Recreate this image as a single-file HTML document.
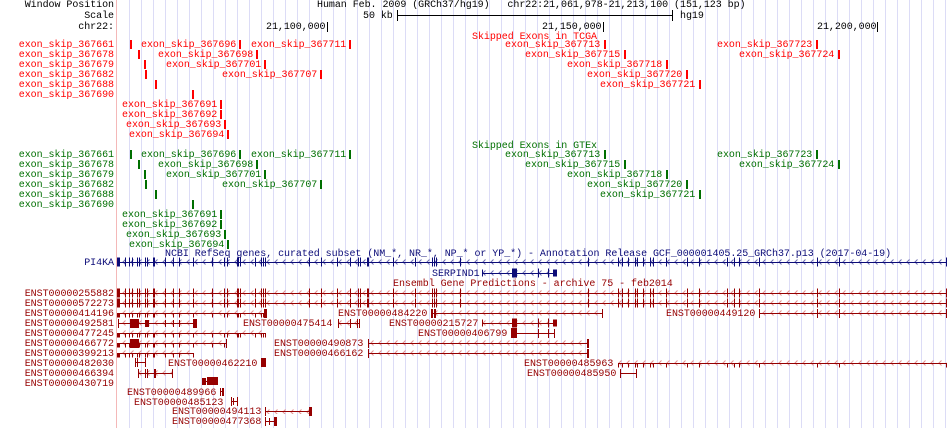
<!DOCTYPE html>
<html><head><meta charset="utf-8"><style>
body{margin:0;background:#fff;width:950px;height:428px;overflow:hidden;position:relative}
.t{position:absolute;font:10px/12px "Liberation Mono","DejaVu Sans Mono",monospace;white-space:pre;letter-spacing:-0.05px;margin-top:2px}
.r{color:#ff0000}.g{color:#006f00}.n{color:#0c0c78}.e{color:#960000}.k{color:#000}
svg{position:absolute;left:0;top:0}
</style></head><body>
<svg width="950" height="428" xmlns="http://www.w3.org/2000/svg">
<defs>
<pattern id="cE3" patternUnits="userSpaceOnUse" width="8" height="10" y="0"><path d="M5.5 0.5 L3 3 L5.5 5.5" fill="none" stroke="#e09090" stroke-width="1"/></pattern>
<pattern id="cE2" patternUnits="userSpaceOnUse" width="8" height="10" y="-1"><path d="M5.5 0.5 L3 3 L5.5 5.5" fill="none" stroke="#e09090" stroke-width="1"/></pattern>
<pattern id="cN2" patternUnits="userSpaceOnUse" width="8" height="10" y="-1"><path d="M5.5 0.5 L3 3 L5.5 5.5" fill="none" stroke="#6a6ab0" stroke-width="1"/></pattern>
<pattern id="cN3" patternUnits="userSpaceOnUse" width="8" height="10" y="0"><path d="M5.5 0.5 L3 3 L5.5 5.5" fill="none" stroke="#6a6ab0" stroke-width="1"/></pattern>
<g id="ex">
<rect x="117" y="-4.5" width="3" height="9"/>
<rect x="125" y="-4.5" width="1" height="9"/><rect x="129" y="-4.5" width="1" height="9"/><rect x="132" y="-4.5" width="1" height="9"/><rect x="137" y="-4.5" width="1" height="9"/><rect x="139" y="-4.5" width="1" height="9"/><rect x="145" y="-4.5" width="1" height="9"/><rect x="147" y="-4.5" width="1" height="9"/><rect x="153" y="-4.5" width="2" height="9"/><rect x="165" y="-4.5" width="1" height="9"/><rect x="173" y="-4.5" width="1" height="9"/><rect x="179" y="-4.5" width="1" height="9"/><rect x="193" y="-4.5" width="1" height="9"/><rect x="212" y="-4.5" width="1" height="9"/><rect x="224" y="-4.5" width="1" height="9"/><rect x="227" y="-4.5" width="1" height="9"/><rect x="237" y="-4.5" width="2" height="9"/><rect x="240" y="-4.5" width="1" height="9"/><rect x="255" y="-4.5" width="1" height="9"/><rect x="261" y="-4.5" width="1" height="9"/><rect x="263" y="-4.5" width="1" height="9"/><rect x="265" y="-4.5" width="1" height="9"/><rect x="309" y="-4.5" width="1" height="9"/><rect x="321" y="-4.5" width="1" height="9"/><rect x="337" y="-4.5" width="1" height="9"/><rect x="350" y="-4.5" width="1" height="9"/><rect x="358" y="-4.5" width="1" height="9"/><rect x="360" y="-4.5" width="1" height="9"/><rect x="367" y="-4.5" width="2" height="9"/><rect x="393" y="-4.5" width="1" height="9"/><rect x="415" y="-4.5" width="1" height="9"/><rect x="432" y="-4.5" width="1" height="9"/><rect x="434" y="-4.5" width="1" height="9"/><rect x="436" y="-4.5" width="1" height="9"/><rect x="460" y="-4.5" width="1" height="9"/><rect x="588" y="-4.5" width="1" height="9"/><rect x="618" y="-4.5" width="1" height="9"/><rect x="622" y="-4.5" width="1" height="9"/><rect x="628" y="-4.5" width="1" height="9"/><rect x="635" y="-4.5" width="1" height="9"/><rect x="637" y="-4.5" width="1" height="9"/><rect x="643" y="-4.5" width="1" height="9"/><rect x="650" y="-4.5" width="1" height="9"/><rect x="653" y="-4.5" width="1" height="9"/><rect x="666" y="-4.5" width="1" height="9"/><rect x="687" y="-4.5" width="1" height="9"/><rect x="699" y="-4.5" width="1" height="9"/><rect x="727" y="-4.5" width="1" height="9"/><rect x="734" y="-4.5" width="1" height="9"/><rect x="739" y="-4.5" width="1" height="9"/><rect x="759" y="-4.5" width="1" height="9"/><rect x="817" y="-4.5" width="1" height="9"/><rect x="839" y="-4.5" width="1" height="9"/><rect x="946" y="-4.5" width="1" height="9"/>
</g>
<g id="sp"><rect x="482" y="-3.5" width="1" height="7"/><rect x="512" y="-4.5" width="5" height="9"/><rect x="538" y="-4.5" width="1" height="9"/><rect x="548" y="-4.5" width="1" height="9"/><rect x="553" y="-3.5" width="4" height="7"/></g>
<clipPath id="c267"><rect x="110" y="0" width="157" height="428"/></clipPath>
<clipPath id="c227"><rect x="110" y="0" width="117" height="428"/></clipPath>
<clipPath id="c195"><rect x="110" y="0" width="85" height="428"/></clipPath>
<clipPath id="c617"><rect x="616" y="0" width="334" height="428"/></clipPath>
</defs>
<g stroke="#dcdcf6" stroke-width="1">
<path d="M129.5 0V428M141.5 0V428M153.5 0V428M165.5 0V428M177.5 0V428M189.5 0V428M201.5 0V428M213.5 0V428M225.5 0V428M237.5 0V428M249.5 0V428M261.5 0V428M273.5 0V428M285.5 0V428M297.5 0V428M309.5 0V428M321.5 0V428M333.5 0V428M345.5 0V428M357.5 0V428M369.5 0V428M381.5 0V428M393.5 0V428M405.5 0V428M417.5 0V428M429.5 0V428M441.5 0V428M453.5 0V428M465.5 0V428M477.5 0V428M489.5 0V428M501.5 0V428M513.5 0V428M525.5 0V428M537.5 0V428M549.5 0V428M561.5 0V428M573.5 0V428M585.5 0V428M597.5 0V428M609.5 0V428M621.5 0V428M633.5 0V428M645.5 0V428M657.5 0V428M669.5 0V428M681.5 0V428M693.5 0V428M705.5 0V428M717.5 0V428M729.5 0V428M741.5 0V428M753.5 0V428M765.5 0V428M777.5 0V428M789.5 0V428M801.5 0V428M813.5 0V428M825.5 0V428M837.5 0V428M849.5 0V428M861.5 0V428M873.5 0V428M885.5 0V428M897.5 0V428M909.5 0V428M921.5 0V428M933.5 0V428M945.5 0V428"/>
</g>
<rect x="116" y="0" width="1" height="428" fill="#f4b8b8"/>
<g fill="#000"><rect x="397" y="15" width="276" height="1"/><rect x="397" y="10" width="1" height="11"/><rect x="672" y="10" width="1" height="11"/>
<rect x="327" y="22" width="1" height="10"/><rect x="603" y="22" width="1" height="10"/><rect x="877" y="22" width="1" height="10"/></g>
<g fill="#ff0000">
<rect x="130" y="40" width="2" height="9"/><rect x="239" y="40" width="2" height="9"/><rect x="349" y="40" width="2" height="9"/><rect x="604" y="40" width="2" height="9"/><rect x="816" y="40" width="2" height="9"/>
<rect x="138" y="50" width="2" height="9"/><rect x="256" y="50" width="2" height="9"/><rect x="624" y="50" width="2" height="9"/><rect x="838" y="50" width="2" height="9"/>
<rect x="144" y="60" width="2" height="9"/><rect x="264" y="60" width="2" height="9"/><rect x="666" y="60" width="2" height="9"/>
<rect x="145" y="70" width="2" height="9"/><rect x="320" y="70" width="2" height="9"/><rect x="686" y="70" width="2" height="9"/>
<rect x="155" y="80" width="2" height="9"/><rect x="699" y="80" width="2" height="9"/>
<rect x="192" y="90" width="2" height="9"/>
<rect x="220" y="100" width="2" height="9"/><rect x="220" y="110" width="2" height="9"/><rect x="224" y="120" width="2" height="9"/><rect x="227" y="130" width="2" height="9"/>
</g>
<g fill="#006f00" transform="translate(0,110)">
<rect x="130" y="40" width="2" height="9"/><rect x="239" y="40" width="2" height="9"/><rect x="349" y="40" width="2" height="9"/><rect x="604" y="40" width="2" height="9"/><rect x="816" y="40" width="2" height="9"/>
<rect x="138" y="50" width="2" height="9"/><rect x="256" y="50" width="2" height="9"/><rect x="624" y="50" width="2" height="9"/><rect x="838" y="50" width="2" height="9"/>
<rect x="144" y="60" width="2" height="9"/><rect x="264" y="60" width="2" height="9"/><rect x="666" y="60" width="2" height="9"/>
<rect x="145" y="70" width="2" height="9"/><rect x="320" y="70" width="2" height="9"/><rect x="686" y="70" width="2" height="9"/>
<rect x="155" y="80" width="2" height="9"/><rect x="699" y="80" width="2" height="9"/>
<rect x="192" y="90" width="2" height="9"/>
<rect x="220" y="100" width="2" height="9"/><rect x="220" y="110" width="2" height="9"/><rect x="224" y="120" width="2" height="9"/><rect x="227" y="130" width="2" height="9"/>
</g>
<rect x="118" y="259" width="829" height="6" fill="url(#cN2)"/>
<rect x="118" y="262" width="829" height="1" fill="#0c0c78"/>
<use href="#ex" y="262" fill="#0c0c78"/>
<rect x="483" y="270" width="74" height="6" fill="url(#cN3)"/>
<rect x="483" y="273" width="74" height="1" fill="#0c0c78"/>
<use href="#sp" y="273" fill="#0c0c78"/>
<g fill="#960000">
<rect x="118" y="290" width="829" height="6" fill="url(#cE3)"/><rect x="118" y="293" width="829" height="1"/><use href="#ex" y="293"/>
<rect x="118" y="300" width="829" height="6" fill="url(#cE3)"/><rect x="118" y="303" width="829" height="1"/><use href="#ex" y="303"/>
<rect x="118" y="310" width="149" height="6" fill="url(#cE3)"/><rect x="118" y="313" width="149" height="1"/><use href="#ex" y="313" clip-path="url(#c267)"/><rect x="264" y="309" width="3" height="9"/>
<rect x="432" y="310" width="171" height="6" fill="url(#cE3)"/><rect x="432" y="313" width="171" height="1"/><rect x="431" y="309" width="2" height="9"/><rect x="434" y="309" width="2" height="9"/><rect x="602" y="309" width="1" height="9"/>
<rect x="759" y="310" width="188" height="6" fill="url(#cE3)"/><rect x="759" y="313" width="188" height="1"/><rect x="759" y="309" width="1" height="9"/><rect x="817" y="309" width="1" height="9"/><rect x="839" y="309" width="1" height="9"/><rect x="946" y="309" width="1" height="9"/>
<rect x="118" y="320" width="79" height="6" fill="url(#cE3)"/><rect x="118" y="323" width="79" height="1"/><rect x="118" y="319" width="1" height="9"/><rect x="130" y="319" width="9" height="9"/><rect x="145" y="320" width="4" height="7"/><rect x="165" y="320" width="1" height="7"/><rect x="173" y="320" width="1" height="7"/><rect x="179" y="320" width="1" height="7"/><rect x="193" y="319" width="4" height="9"/>
<rect x="338" y="320" width="22" height="6" fill="url(#cE3)"/><rect x="338" y="323" width="22" height="1"/><rect x="338" y="319" width="1" height="9"/><rect x="350" y="319" width="1" height="9"/><rect x="357" y="319" width="1" height="9"/><rect x="359" y="319" width="1" height="9"/>
<rect x="482" y="320" width="75" height="6" fill="url(#cE3)"/><rect x="482" y="323" width="75" height="1"/><use href="#sp" y="323"/>
<rect x="118" y="330" width="148" height="6" fill="url(#cE3)"/><rect x="118" y="333" width="148" height="1"/><use href="#ex" y="333" clip-path="url(#c267)"/>
<rect x="512" y="333" width="43" height="1"/><rect x="511" y="328" width="6" height="10"/><rect x="538" y="329" width="1" height="9"/><rect x="548" y="329" width="1" height="9"/><rect x="554" y="329" width="1" height="9"/>
<rect x="118" y="340" width="109" height="6" fill="url(#cE3)"/><rect x="118" y="343" width="109" height="1"/><use href="#ex" y="343" clip-path="url(#c227)"/><rect x="130" y="339" width="9" height="9"/><rect x="226" y="339" width="1" height="9"/>
<rect x="368" y="340" width="221" height="6" fill="url(#cE3)"/><rect x="368" y="343" width="221" height="1"/><rect x="368" y="339" width="1" height="9"/><rect x="587" y="339" width="2" height="9"/>
<rect x="118" y="350" width="76" height="6" fill="url(#cE3)"/><rect x="118" y="353" width="76" height="1"/><use href="#ex" y="353" clip-path="url(#c195)"/>
<rect x="368" y="350" width="221" height="6" fill="url(#cE3)"/><rect x="368" y="353" width="221" height="1"/><rect x="368" y="349" width="1" height="9"/><rect x="587" y="349" width="2" height="9"/>
<rect x="135" y="362" width="11" height="1"/><rect x="135" y="358" width="1" height="9"/><rect x="137" y="358" width="1" height="9"/><rect x="145" y="358" width="1" height="9"/>
<rect x="261" y="358" width="5" height="9"/>
<rect x="618" y="360" width="329" height="6" fill="url(#cE3)"/><rect x="618" y="363" width="329" height="1"/><use href="#ex" y="363" clip-path="url(#c617)"/>
<rect x="138" y="370" width="35" height="6" fill="url(#cE3)"/><rect x="138" y="373" width="35" height="1"/><rect x="138" y="369" width="1" height="9"/><rect x="145" y="369" width="1" height="9"/><rect x="147" y="369" width="1" height="9"/><rect x="154" y="369" width="2" height="9"/><rect x="172" y="369" width="1" height="9"/>
<rect x="620" y="373" width="17" height="1"/><rect x="620" y="369" width="1" height="9"/><rect x="636" y="369" width="1" height="9"/>
<rect x="202" y="378" width="4" height="7"/><rect x="202" y="381" width="15" height="1"/><rect x="207" y="377" width="11" height="8"/>
<rect x="220" y="388" width="1" height="8"/><rect x="220" y="391" width="4" height="1"/><rect x="222" y="388" width="2" height="8"/>
<rect x="231" y="401" width="7" height="1"/><rect x="231" y="397" width="1" height="9"/><rect x="237" y="397" width="1" height="9"/><rect x="233" y="398" width="1" height="7"/>
<rect x="265" y="408" width="46" height="6" fill="url(#cE2)"/><rect x="265" y="411" width="46" height="1"/><rect x="265" y="407" width="1" height="9"/><rect x="309" y="407" width="3" height="9"/>
<rect x="265" y="421" width="12" height="1"/><rect x="265" y="417" width="1" height="9"/><rect x="269" y="418" width="1" height="7"/><rect x="274" y="417" width="3" height="9"/>
</g>
</svg>

<div class="t k" style="right:836px;top:-2px">Window Position</div>
<div class="t k" style="right:836px;top:9px">Scale</div>
<div class="t k" style="right:836px;top:20px">chr22:</div>
<div class="t k" style="left:317px;top:-2px">Human Feb. 2009 (GRCh37/hg19)   chr22:21,061,978-21,213,100 (151,123 bp)</div>
<div class="t k" style="left:363px;top:9px">50 kb</div>
<div class="t k" style="left:680px;top:9px">hg19</div>
<div class="t k" style="left:266px;top:20px">21,100,000</div>
<div class="t k" style="left:542px;top:20px">21,150,000</div>
<div class="t k" style="left:817px;top:20px">21,200,000</div>

<div class="t r" style="left:472px;top:30px">Skipped Exons in TCGA</div>
<div class="t r" style="right:836px;top:38px;line-height:10px;text-align:right;margin-top:3px">exon_skip_367661
exon_skip_367678
exon_skip_367679
exon_skip_367682
exon_skip_367688
exon_skip_367690</div>
<div class="t r" style="left:141px;top:38px">exon_skip_367696</div>
<div class="t r" style="left:251px;top:38px">exon_skip_367711</div>
<div class="t r" style="left:505px;top:38px">exon_skip_367713</div>
<div class="t r" style="left:717px;top:38px">exon_skip_367723</div>
<div class="t r" style="left:158px;top:48px">exon_skip_367698</div>
<div class="t r" style="left:525px;top:48px">exon_skip_367715</div>
<div class="t r" style="left:739px;top:48px">exon_skip_367724</div>
<div class="t r" style="left:166px;top:58px">exon_skip_367701</div>
<div class="t r" style="left:567px;top:58px">exon_skip_367718</div>
<div class="t r" style="left:222px;top:68px">exon_skip_367707</div>
<div class="t r" style="left:587px;top:68px">exon_skip_367720</div>
<div class="t r" style="left:600px;top:78px">exon_skip_367721</div>
<div class="t r" style="left:122px;top:98px">exon_skip_367691</div>
<div class="t r" style="left:122px;top:108px">exon_skip_367692</div>
<div class="t r" style="left:126px;top:118px">exon_skip_367693</div>
<div class="t r" style="left:129px;top:128px">exon_skip_367694</div>

<div class="t g" style="left:472px;top:139px">Skipped Exons in GTEx</div>
<div class="t g" style="right:836px;top:148px;line-height:10px;text-align:right;margin-top:3px">exon_skip_367661
exon_skip_367678
exon_skip_367679
exon_skip_367682
exon_skip_367688
exon_skip_367690</div>
<div class="t g" style="left:141px;top:148px">exon_skip_367696</div>
<div class="t g" style="left:251px;top:148px">exon_skip_367711</div>
<div class="t g" style="left:505px;top:148px">exon_skip_367713</div>
<div class="t g" style="left:717px;top:148px">exon_skip_367723</div>
<div class="t g" style="left:158px;top:158px">exon_skip_367698</div>
<div class="t g" style="left:525px;top:158px">exon_skip_367715</div>
<div class="t g" style="left:739px;top:158px">exon_skip_367724</div>
<div class="t g" style="left:166px;top:168px">exon_skip_367701</div>
<div class="t g" style="left:567px;top:168px">exon_skip_367718</div>
<div class="t g" style="left:222px;top:178px">exon_skip_367707</div>
<div class="t g" style="left:587px;top:178px">exon_skip_367720</div>
<div class="t g" style="left:600px;top:188px">exon_skip_367721</div>
<div class="t g" style="left:122px;top:208px">exon_skip_367691</div>
<div class="t g" style="left:122px;top:218px">exon_skip_367692</div>
<div class="t g" style="left:126px;top:228px">exon_skip_367693</div>
<div class="t g" style="left:129px;top:238px">exon_skip_367694</div>

<div class="t n" style="left:165px;top:247px">NCBI RefSeq genes, curated subset (NM_*, NR_*, NP_* or YP_*) - Annotation Release GCF_000001405.25_GRCh37.p13 (2017-04-19)</div>
<div class="t n" style="right:836px;top:256px">PI4KA</div>
<div class="t n" style="left:432px;top:267px">SERPIND1</div>
<div class="t e" style="left:393px;top:277px">Ensembl Gene Predictions - archive 75 - feb2014</div>
<div class="t e" style="right:836px;top:287px;line-height:10px;margin-top:3px;text-align:right">ENST00000255882
ENST00000572273
ENST00000414196
ENST00000492581
ENST00000477245
ENST00000466772
ENST00000399213
ENST00000482030
ENST00000466394
ENST00000430719</div>
<div class="t e" style="left:338px;top:307px">ENST00000484220</div>
<div class="t e" style="left:666px;top:307px">ENST00000449120</div>
<div class="t e" style="left:243px;top:317px">ENST00000475414</div>
<div class="t e" style="left:389px;top:317px">ENST00000215727</div>
<div class="t e" style="left:418px;top:327px">ENST00000406799</div>
<div class="t e" style="left:274px;top:337px">ENST00000490873</div>
<div class="t e" style="left:274px;top:347px">ENST00000466162</div>
<div class="t e" style="left:168px;top:357px">ENST00000462210</div>
<div class="t e" style="left:524px;top:357px">ENST00000485963</div>
<div class="t e" style="left:527px;top:367px">ENST00000485950</div>
<div class="t e" style="left:127px;top:386px">ENST00000489966</div>
<div class="t e" style="left:134px;top:396px">ENST00000485123</div>
<div class="t e" style="left:172px;top:405px">ENST00000494113</div>
<div class="t e" style="left:172px;top:415px">ENST00000477368</div>
</body></html>
